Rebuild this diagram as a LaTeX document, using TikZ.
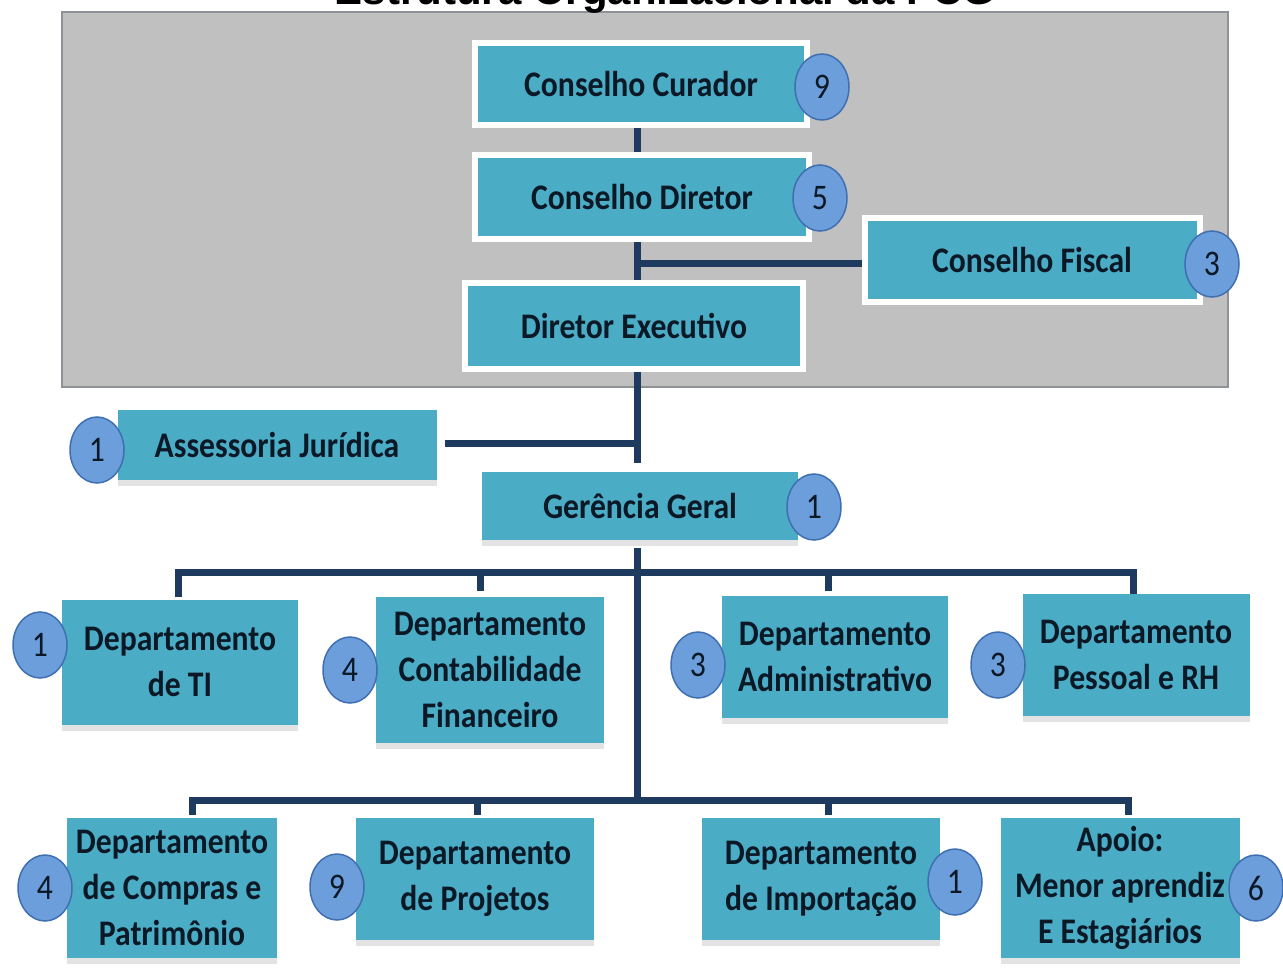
\documentclass[tikz,border=0pt]{standalone}
\usepackage{fontspec}
\setmainfont{Carlito}[FakeStretch=0.88]
\newfontfamily\titlefont{Liberation Sans}
\usetikzlibrary{shapes.geometric,shadows}
\definecolor{tealbox}{HTML}{4BACC6}
\definecolor{panelgray}{HTML}{C0C0C0}
\definecolor{panelrim}{HTML}{8E9196}
\definecolor{navy}{HTML}{1F3A5F}
\definecolor{ink}{HTML}{0B1826}
\definecolor{badgefill}{HTML}{6C9EDB}
\definecolor{badgerim}{HTML}{3F6FB0}
\pgfdeclarelayer{panelL}
\pgfdeclarelayer{linkL}
\pgfsetlayers{panelL,linkL,main}
\tikzset{
  unit/.style={fill=tealbox, text=ink, font=\fontsize{36}{46}\selectfont\bfseries, align=center, inner sep=0pt},
  topunit/.style={unit, draw=white, line width=6pt},
  lowunit/.style={unit, drop shadow={shadow xshift=0pt, shadow yshift=-6pt, fill=black!11, opacity=1}},
  badge/.style={ellipse, fill=badgefill, draw=badgerim, line width=1.5pt, minimum width=54pt, minimum height=66pt, inner sep=0pt, text=ink, font=\fontsize{36}{36}\selectfont},
  link/.style={draw=navy, line width=7pt},
  panelbox/.style={fill=panelgray, draw=panelrim, line width=2pt, inner sep=0pt},
}
\begin{document}
\begin{tikzpicture}[x=1pt,y=-1pt]
\path[use as bounding box] (0,0) rectangle (1283,974);
\clip (0,0) rectangle (1283,974);

\begin{pgfonlayer}{panelL}
\node[panelbox, minimum width=1166pt, minimum height=375pt] (panel) at (645,199.5) {};
\end{pgfonlayer}

\node[font=\titlefont\bfseries\fontsize{42}{42}\selectfont, anchor=base, text=black] (title) at (665,5) {Estrutura Organizacional da FCG};

% top units
\node[topunit, minimum width=332pt, minimum height=82pt] (cur) at (641,84) {Conselho Curador};
\node[topunit, minimum width=334pt, minimum height=84pt] (dir) at (642,197) {Conselho Diretor};
\node[topunit, minimum width=335pt, minimum height=84pt] (fis) at (1032,260) {Conselho Fiscal};
\node[topunit, minimum width=338pt, minimum height=86pt] (exe) at (634,326) {Diretor Executivo};

% lower units
\node[lowunit, minimum width=319pt, minimum height=70pt] (ass) at (277,445) {Assessoria Jurídica};
\node[lowunit, minimum width=316pt, minimum height=68pt] (ger) at (640,506) {Gerência Geral};
\node[lowunit, minimum width=236pt, minimum height=125pt] (ti) at (180,662) {Departamento\\de TI};
\node[lowunit, minimum width=228pt, minimum height=146pt] (cont) at (490,670) {Departamento\\Contabilidade\\Financeiro};
\node[lowunit, minimum width=226pt, minimum height=122pt] (adm) at (835,657) {Departamento\\Administrativo};
\node[lowunit, minimum width=227pt, minimum height=122pt] (rh) at (1136,655) {Departamento\\Pessoal e RH};
\node[lowunit, minimum width=210pt, minimum height=140pt] (comp) at (172,888) {Departamento\\de Compras e\\Patrimônio};
\node[lowunit, minimum width=238pt, minimum height=122pt] (proj) at (475,879) {Departamento\\de Projetos};
\node[lowunit, minimum width=238pt, minimum height=122pt] (imp) at (821,879) {Departamento\\de Importação};
\node[lowunit, minimum width=239pt, minimum height=140pt] (apo) at (1120,888) {Apoio:\\Menor aprendiz\\E Estagiários};

% badges
\node[badge] (bcur) at (822,87) {9};
\node[badge] (bdir) at (820,198) {5};
\node[badge] (bfis) at (1212,264) {3};
\node[badge] (bass) at (97,450) {1};
\node[badge] (bger) at (814,507) {1};
\node[badge] (bti) at (40,645) {1};
\node[badge] (bcont) at (350,670) {4};
\node[badge] (badm) at (698,665) {3};
\node[badge] (brh) at (998,665) {3};
\node[badge] (bcomp) at (45,888) {4};
\node[badge] (bproj) at (337,887) {9};
\node[badge] (bimp) at (955,882) {1};
\node[badge] (bapo) at (1256,888) {6};

% connectors
\coordinate (sp) at (637,0);
\coordinate (jA) at (637,443);
\coordinate (jF) at (637,263);
\coordinate (b1) at (637,572);
\coordinate (b2) at (637,800);
\begin{pgfonlayer}{linkL}
\draw[link] (cur.south -| sp) -- (dir.north -| sp);
\draw[link] (dir.south -| sp) -- (exe.north -| sp);
\draw[link] (fis.west |- jF) -- (jF);
\draw[link] (exe.south -| sp) -- ([yshift=-20pt]jA);
\draw[link] ([xshift=8pt]ass.east |- jA) -- (jA);
\draw[link] ([yshift=-8pt]ger.south -| sp) -- (b2);
\draw[link, shorten <=2pt] ([xshift=-2pt]ti.north) |- (b1) -| ([xshift=-3pt]rh.north);
\draw[link, shorten <=6pt] ([xshift=-10pt]cont.north) -- ([xshift=-10pt]cont.north |- b1);
\draw[link, shorten <=5pt] ([xshift=-7pt]adm.north) -- ([xshift=-7pt]adm.north |- b1);
\draw[link, shorten <=3pt, shorten >=3pt] ([xshift=20pt]comp.north) |- (b2) -| ([xshift=8pt]apo.north);
\draw[link, shorten <=3pt] ([xshift=2pt]proj.north) -- ([xshift=2pt]proj.north |- b2);
\draw[link, shorten <=3pt] ([xshift=7pt]imp.north) -- ([xshift=7pt]imp.north |- b2);
\end{pgfonlayer}
\end{tikzpicture}
\end{document}
